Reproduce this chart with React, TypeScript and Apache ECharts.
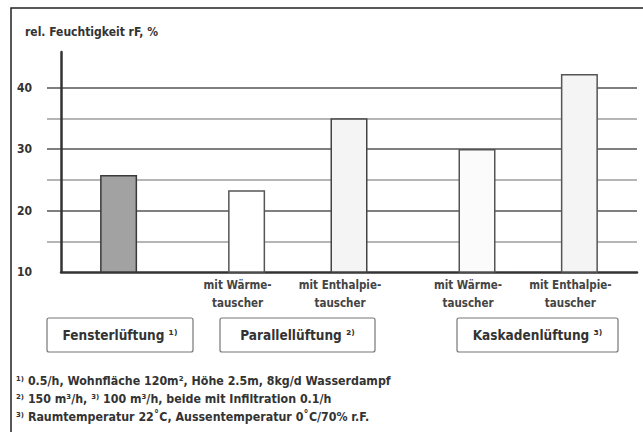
import { useEffect, useRef } from 'react';
import * as echarts from 'echarts';

// ---- data ----
const yTitle = 'rel. Feuchtigkeit rF, %';
const barLabels = ['', 'mit Wärme-\ntauscher', 'mit Enthalpie-\ntauscher', 'mit Wärme-\ntauscher', 'mit Enthalpie-\ntauscher'];
const humidity = [25.8, 23.3, 35, 30, 42.2];
const yTickLabels = [10, 20, 30, 40];
const groupNames = ['Fensterlüftung ¹⁾', 'Parallellüftung ²⁾', 'Kaskadenlüftung ³⁾'];
const footnotes = [
  '¹⁾ 0.5/h, Wohnfläche 120m², Höhe 2.5m, 8kg/d Wasserdampf',
  '²⁾ 150 m³/h, ³⁾ 100 m³/h, beide mit Infiltration 0.1/h',
  '³⁾ Raumtemperatur 22˚C, Aussentemperatur 0˚C/70% r.F.',
];

// ---- layout / style constants ----
const SLOT_COUNT = 45;
const BAR_SLOTS = [4, 14, 22, 32, 40];
const BAR_STYLES = [
  { color: '#a2a2a2', borderColor: '#3a3a3a', borderWidth: 1.5 },
  { color: '#ffffff', borderColor: '#555555', borderWidth: 1.5 },
  { color: '#f4f4f4', borderColor: '#444444', borderWidth: 1.5 },
  { color: '#fbfbfb', borderColor: '#555555', borderWidth: 1.5 },
  { color: '#f4f4f4', borderColor: '#555555', borderWidth: 1.5 },
];
const GROUP_BOXES = [
  { x: 47, w: 146 },
  { x: 220, w: 155 },
  { x: 457, w: 161 },
];
const FONT = '"DejaVu Sans Condensed", "Liberation Sans Narrow", "DejaVu Sans", sans-serif';
const T = 'rgba(0,0,0,0)';
const GRID_COLORS = [T, '#9c9c9c', '#555555', '#9c9c9c', '#555555', '#9c9c9c', '#555555', T, T];

export default function App() {
  const ref = useRef<HTMLDivElement>(null);
  useEffect(() => {
    if (!ref.current) return;
    const chart = echarts.init(ref.current, null, { renderer: 'svg' });
    const categories = Array.from({ length: SLOT_COUNT }, (_, i) => 's' + i);
    const option: any = {
      animation: false,
      backgroundColor: '#ffffff',
      textStyle: { fontFamily: FONT },
      grid: [
        { left: 47, right: 6, top: 52, bottom: 160 },
        { left: 61, right: 6, top: 52, bottom: 160 },
      ],
      xAxis: [
        { gridIndex: 0, type: 'value', show: false, min: 0, max: 1 },
        {
          gridIndex: 1,
          type: 'category',
          data: categories,
          axisLine: { show: true, onZero: false, lineStyle: { color: '#333', width: 2.5 } },
          axisTick: { show: false },
          splitLine: { show: false },
          axisLabel: {
            interval: 0,
            margin: 4,
            fontSize: 11.5,
            lineHeight: 18,
            fontWeight: 'bold',
            fontFamily: FONT,
            color: '#444',
            padding: [0, 18, 0, 0],
            formatter: (_v: string, idx: number) => {
              const k = BAR_SLOTS.indexOf(idx);
              return k >= 0 ? barLabels[k] : '';
            },
          },
        },
      ],
      yAxis: [
        {
          gridIndex: 0,
          type: 'value',
          min: 10,
          max: 45.8,
          interval: 5,
          axisLine: { show: false },
          axisTick: { show: false },
          axisLabel: { show: false },
          splitLine: { show: true, lineStyle: { color: GRID_COLORS, width: 1.7 } },
        },
        {
          gridIndex: 1,
          type: 'value',
          min: 10,
          max: 45.8,
          interval: 10,
          axisLine: { show: true, lineStyle: { color: '#333', width: 2.5 } },
          axisTick: { show: false },
          splitLine: { show: false },
          axisLabel: {
            margin: 29,
            fontSize: 12,
            fontWeight: 'bold',
            fontFamily: FONT,
            color: '#333',
            padding: [0, 0, 6, 0],
            formatter: (v: number) => (yTickLabels.includes(v) ? String(v) : ''),
          },
        },
      ],
      series: [
        {
          type: 'bar',
          xAxisIndex: 1,
          yAxisIndex: 1,
          barWidth: 37,
          data: humidity.map((v, k) => ({ value: [BAR_SLOTS[k], v], itemStyle: BAR_STYLES[k] })),
        },
      ],
      graphic: [
        {
          type: 'rect',
          shape: { x: 11, y: 8, width: 700, height: 500 },
          style: { fill: 'none', stroke: '#222', lineWidth: 1.5 },
          silent: true,
        },
        {
          type: 'text',
          x: 25,
          y: 32,
          style: { text: yTitle, fontSize: 12, fontWeight: 'bold', fontFamily: FONT, fill: '#333', verticalAlign: 'middle' },
        },
        ...GROUP_BOXES.map((b, i) => ({
          type: 'group',
          children: [
            {
              type: 'rect',
              shape: { x: b.x, y: 318, width: b.w, height: 34, r: 2 },
              style: { fill: '#fff', stroke: '#777', lineWidth: 1.2 },
            },
            {
              type: 'text',
              x: b.x + b.w / 2,
              y: 335,
              style: {
                text: groupNames[i],
                fontSize: 13.5,
                fontWeight: 'bold',
                fontFamily: FONT,
                fill: '#333',
                align: 'center',
                verticalAlign: 'middle',
              },
            },
          ],
        })),
        ...footnotes.map((t, i) => ({
          type: 'text',
          x: 16,
          y: 381 + i * 18,
          style: { text: t, fontSize: 12.3, fontWeight: 'bold', fontFamily: FONT, fill: '#333', verticalAlign: 'middle' },
        })),
      ],
    };
    chart.setOption(option);
    return () => chart.dispose();
  }, []);
  return <div ref={ref} style={{ position: 'fixed', left: 0, top: 0, width: 643, height: 432 }} />;
}
